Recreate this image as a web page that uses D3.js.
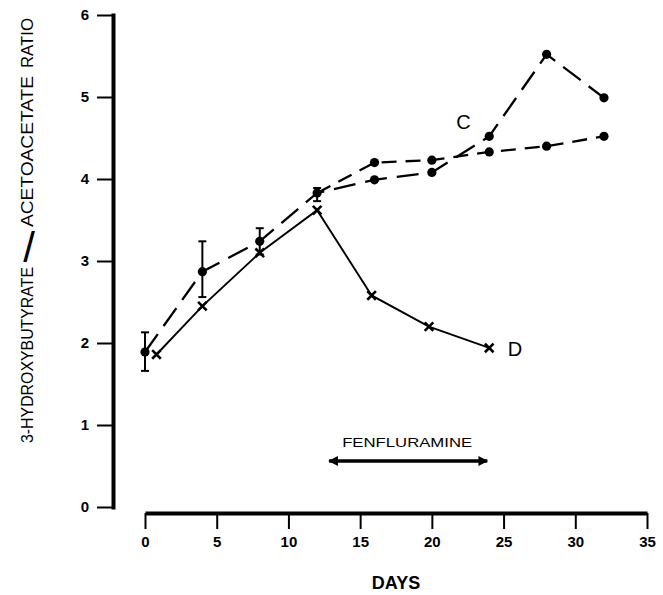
<!DOCTYPE html>
<html>
<head>
<meta charset="utf-8">
<script src="https://cdn.jsdelivr.net/npm/d3@7"></script>
<style>
  html, body { margin: 0; padding: 0; background: #fff; }
  svg { display: block; }
  text { font-family: "Liberation Sans", Arial, Helvetica, sans-serif; fill: #000; }
</style>
</head>
<body>
<svg id="chart" width="663" height="595"></svg>
<script>
// values
const dayTicks = [0, 5, 10, 15, 20, 25, 30, 35];
const ratioTicks = [0, 1, 2, 3, 4, 5, 6];

// curve C (long dashes, peaks at day 28)
const cDays = [0, 4, 8, 12, 16, 20, 24, 28, 32];
const cRatio = [1.89, 2.87, 3.24, 3.83, 3.99, 4.08, 4.52, 5.52, 4.99];
// error bars on the shared pre-treatment points
const errDays = [0, 4, 8, 12];
const errHigh = [2.13, 3.24, 3.40, 3.89];
const errLow = [1.66, 2.56, 3.08, 3.73];

// second dashed curve (short dashes), leaves C at day 12
const bDays = [12, 16, 20, 24, 28, 32];
const bRatio = [3.83, 4.20, 4.23, 4.33, 4.40, 4.52];

// curve D (solid, crosses)
const dDays = [0.8, 4, 8, 12, 15.8, 19.8, 24];
const dRatio = [1.86, 2.45, 3.10, 3.62, 2.58, 2.20, 1.94];

// fenfluramine period
const drugStart = 12.7;
const drugEnd = 24;

const svg = d3.select("#chart");

const x = d3.scaleLinear().domain([0, 35]).range([145, 647]);
const y = d3.scaleLinear().domain([0, 6]).range([507, 15]);

// y axis
const yAxis = svg.append("g")
  .attr("transform", "translate(113,0)")
  .call(d3.axisLeft(y).tickValues(ratioTicks).tickFormat(d3.format("d"))
    .tickSize(16).tickSizeOuter(0).tickPadding(8));
yAxis.select(".domain").attr("stroke-width", 4).attr("stroke-linecap", "square");
yAxis.selectAll(".tick line").attr("stroke-width", 2);
yAxis.selectAll(".tick text")
  .attr("font-size", 15).attr("font-weight", "bold")
  .attr("font-family", "Liberation Sans, Arial, sans-serif");

// x axis (drawn detached below the y axis)
const xAxis = svg.append("g")
  .attr("transform", "translate(0,513)")
  .call(d3.axisBottom(x).tickValues(dayTicks).tickFormat(d3.format("d"))
    .tickSize(16).tickSizeOuter(0).tickPadding(7));
xAxis.select(".domain").attr("stroke-width", 4);
xAxis.selectAll(".tick line").attr("stroke-width", 2);
xAxis.selectAll(".tick text")
  .attr("font-size", 15).attr("font-weight", "bold")
  .attr("font-family", "Liberation Sans, Arial, sans-serif");

// axis titles
svg.append("text")
  .attr("x", (x(0) + x(35)) / 2)
  .attr("y", 589)
  .attr("text-anchor", "middle")
  .attr("font-size", 18)
  .attr("font-weight", "bold")
  .text("DAYS");

// y title: rotated words with an upright oversized slash between them
const ytitle = [
  { txt: "3-HYDROXYBUTYRATE", at: 443, len: 176 },
  { txt: "ACETOACETATE", at: 227, len: 151 },
  { txt: "RATIO", at: 68, len: 50 }
];
svg.append("g").selectAll("text")
  .data(ytitle)
  .join("text")
  .attr("transform", d => `translate(33,${d.at}) rotate(-90)`)
  .attr("font-size", 16)
  .attr("textLength", d => d.len)
  .attr("lengthAdjust", "spacingAndGlyphs")
  .text(d => d.txt);
svg.append("text")
  .attr("x", 29).attr("y", 262)
  .attr("text-anchor", "middle")
  .attr("font-size", 42)
  .text("/");

// lines
const line = d3.line().x(d => x(d[0])).y(d => y(d[1]));
const cPts = cDays.map((d, i) => [d, cRatio[i]]);
const bPts = bDays.map((d, i) => [d, bRatio[i]]);
const dPts = dDays.map((d, i) => [d, dRatio[i]]);

svg.append("path").datum(cPts)
  .attr("d", line).attr("fill", "none").attr("stroke", "#000")
  .attr("stroke-width", 2.3).attr("stroke-dasharray", "22,10");
svg.append("path").datum(bPts)
  .attr("d", line).attr("fill", "none").attr("stroke", "#000")
  .attr("stroke-width", 2.3).attr("stroke-dasharray", "15,9");
svg.append("path").datum(dPts)
  .attr("d", line).attr("fill", "none").attr("stroke", "#000")
  .attr("stroke-width", 1.9);

// error bars
const eb = svg.append("g").attr("stroke", "#000").attr("stroke-width", 2);
errDays.forEach((d, i) => {
  eb.append("line").attr("x1", x(d)).attr("x2", x(d)).attr("y1", y(errHigh[i])).attr("y2", y(errLow[i]));
  eb.append("line").attr("x1", x(d) - 4).attr("x2", x(d) + 4).attr("y1", y(errHigh[i])).attr("y2", y(errHigh[i]));
  eb.append("line").attr("x1", x(d) - 4).attr("x2", x(d) + 4).attr("y1", y(errLow[i])).attr("y2", y(errLow[i]));
});

// markers
svg.append("g").selectAll("circle")
  .data(cPts.concat(bPts.slice(1)))
  .join("circle")
  .attr("cx", d => x(d[0])).attr("cy", d => y(d[1]))
  .attr("r", 4.6).attr("fill", "#000");

svg.append("g").selectAll("path")
  .data(dPts)
  .join("path")
  .attr("transform", d => `translate(${x(d[0])},${y(d[1])})`)
  .attr("d", d3.symbol(d3.symbolTimes).size(50))
  .attr("fill", "none").attr("stroke", "#000").attr("stroke-width", 2.6);

// curve labels
svg.append("text").attr("x", x(22.2)).attr("y", y(4.7) + 7)
  .attr("text-anchor", "middle").attr("font-size", 20).text("C");
svg.append("text").attr("x", x(25.8)).attr("y", y(1.94) + 8)
  .attr("text-anchor", "middle").attr("font-size", 20).text("D");

// fenfluramine arrow
svg.append("defs").append("marker")
  .attr("id", "ah").attr("viewBox", "0 0 10 10")
  .attr("refX", 9).attr("refY", 5)
  .attr("markerWidth", 3.4).attr("markerHeight", 2.8)
  .attr("orient", "auto-start-reverse")
  .append("path").attr("d", "M0,0L10,5L0,10Z").attr("fill", "#000");

svg.append("line")
  .attr("x1", x(drugStart) + 2).attr("x2", x(drugEnd) - 2)
  .attr("y1", 461).attr("y2", 461)
  .attr("stroke", "#000").attr("stroke-width", 3.5)
  .attr("marker-start", "url(#ah)").attr("marker-end", "url(#ah)");

svg.append("text")
  .attr("x", x(drugStart) + 15)
  .attr("y", 447)
  .attr("font-size", 13.5)
  .attr("textLength", 130)
  .attr("lengthAdjust", "spacingAndGlyphs")
  .text("FENFLURAMINE");
</script>
</body>
</html>
